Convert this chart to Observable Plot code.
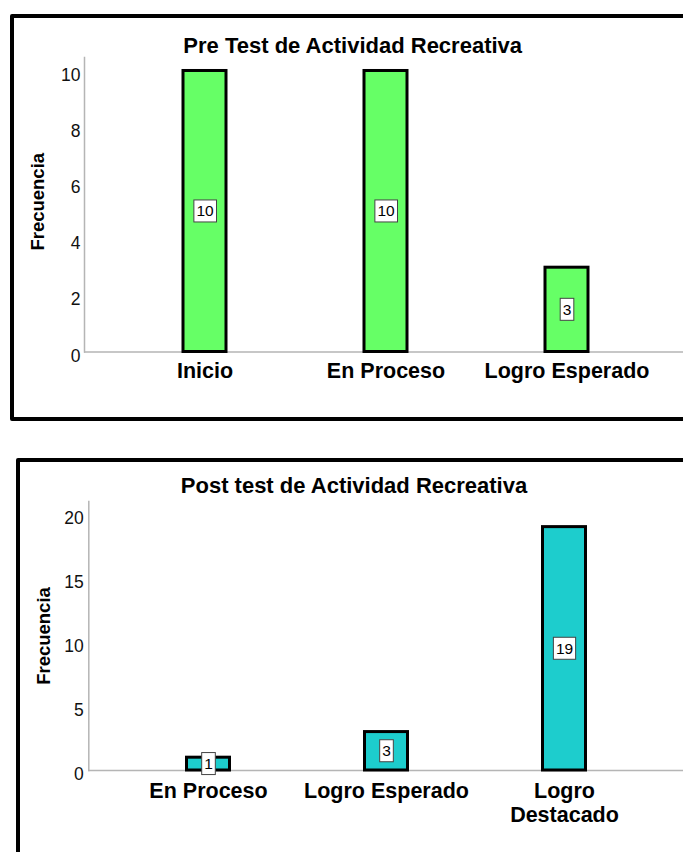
<!DOCTYPE html>
<html><head><meta charset="utf-8">
<script src="https://cdn.jsdelivr.net/npm/d3@7"></script>
<script src="https://cdn.jsdelivr.net/npm/@observablehq/plot@0.6"></script>
<style>
html,body{margin:0;padding:0;background:#fff;overflow:hidden;width:683px;height:852px;}
body{position:relative;font-family:"Liberation Sans",Arial,sans-serif;}
.box{position:absolute;border:4px solid #000;border-radius:2px;box-sizing:border-box;}
.title{position:absolute;font-weight:bold;font-size:22px;line-height:22px;white-space:nowrap;transform:translateX(-50%);color:#000;}
.chart{position:absolute;left:0;width:683px;}
</style></head><body>
<div class="box" style="left:10px;top:13.5px;width:720px;height:407.5px"></div>
<div class="box" style="left:16px;top:458px;width:720px;height:450px"></div>
<div id="t1" class="title" style="left:352.7px;top:34.7px"></div>
<div id="t2" class="title" style="left:354px;top:475.4px"></div>
<div id="pre" class="chart" style="top:0"></div>
<div id="post" class="chart" style="top:440px"></div>
<script>
const preTitle = "Pre Test de Actividad Recreativa";
const postTitle = "Post test de Actividad Recreativa";
const yLabel = "Frecuencia";
const preCategories = ["Inicio", "En Proceso", "Logro Esperado"];
const preValues = [10, 10, 3];
const preTickLabels = ["Inicio", "En Proceso", "Logro Esperado"];
const preTicks = [0, 2, 4, 6, 8, 10];
const postCategories = ["En Proceso", "Logro Esperado", "Logro Destacado"];
const postValues = [1, 3, 19];
const postTickLabels = ["En Proceso", "Logro Esperado", "Logro\nDestacado"];
const postTicks = [0, 5, 10, 15, 20];

document.getElementById("t1").textContent = preTitle;
document.getElementById("t2").textContent = postTitle;

function drawChart(el, cats, vals, labels, ticks, o) {
  const data = cats.map((c, i) => ({cat: c, v: vals[i], label: labels[i]}));
  const chart = Plot.plot({
    width: 683, height: o.height,
    marginLeft: o.ml, marginRight: 0, marginTop: o.mt, marginBottom: o.mb,
    style: {fontFamily: "'Liberation Sans', Arial, sans-serif", background: "transparent", overflow: "visible", color: "#000"},
    x: {type: "band", domain: cats, range: o.xr, padding: 0, axis: null},
    y: {domain: [0, o.ymax], axis: null},
    marks: [
      Plot.frame({anchor: "left", stroke: "#b5b5b5", strokeWidth: 1.5}),
      Plot.ruleY([0], {stroke: "#b5b5b5", strokeWidth: 1.5}),
      Plot.axisY(ticks, {tickSize: 0, tickPadding: o.tp, fontSize: 17.5, dy: 4, label: null, fill: "#111"}),
      Plot.barY(data, {x: "cat", y: "v", fill: o.color, stroke: "#000", strokeWidth: 3, insetLeft: o.inset, insetRight: o.inset}),
      Plot.text(data, {x: "cat", y: () => 0, text: "label", lineAnchor: "top", dy: o.ldy, fontSize: 21.5, fontWeight: "bold", lineHeight: 1.1, fill: "#000"}),
      Plot.text(data, {x: "cat", y: d => d.v / 2, text: d => String(d.v), fontSize: 15.5, fill: "#000", ariaDescription: "value-label"}),
      Plot.text([yLabel], {frameAnchor: "left", textAnchor: "middle", rotate: -90, dx: o.ydx, dy: o.ydy, fontSize: 18.5, fontWeight: "bold", fill: "#000"})
    ]
  });
  el.append(chart);
  let texts = chart.querySelectorAll('g[aria-description="value-label"] text');
  if (!texts.length) {
    const groups = chart.querySelectorAll('g[aria-label="text"]');
    if (groups.length > 1) texts = groups[1].querySelectorAll("text");
  }
  texts.forEach(t => {
    const bb = t.getBBox();
    const r = document.createElementNS("http://www.w3.org/2000/svg", "rect");
    const cy = bb.y + bb.height / 2;
    r.setAttribute("x", bb.x - 2.5);
    r.setAttribute("y", cy - 11);
    r.setAttribute("width", bb.width + 5);
    r.setAttribute("height", 22);
    r.setAttribute("fill", "#fff");
    r.setAttribute("stroke", "#444");
    r.setAttribute("stroke-width", 1);
    if (t.getAttribute("transform")) r.setAttribute("transform", t.getAttribute("transform"));
    t.parentNode.insertBefore(r, t);
  });
}

drawChart(document.getElementById("pre"), preCategories, preValues, preTickLabels, preTicks, {
  height: 420, ml: 84, mt: 57, mb: 68.5, ymax: 10.48, xr: [114, 657], inset: 69, tp: 4, ldy: 9.2, ydx: -46, ydy: -3, color: "#66ff66"
});
drawChart(document.getElementById("post"), postCategories, postValues, postTickLabels, postTicks, {
  height: 412, ml: 88.3, mt: 61, mb: 82, ymax: 21, xr: [119, 653], inset: 67.5, tp: 5, ldy: 10.7, ydx: -44.3, ydy: 0, color: "#1dcdcd"
});
</script>
</body></html>
